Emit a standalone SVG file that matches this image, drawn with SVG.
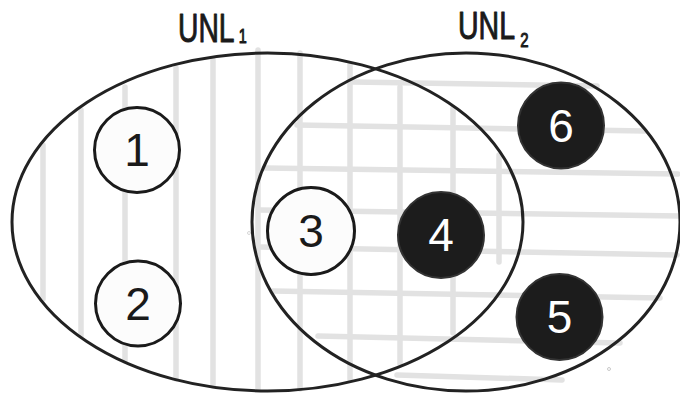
<svg xmlns="http://www.w3.org/2000/svg" width="680" height="396" viewBox="0 0 680 396">
<style>
.hatch{stroke:#e2e2e2;stroke-width:5.5;stroke-linecap:round;fill:none}
.set{fill:none;stroke:#222;stroke-width:3}
.wc{fill:#fcfcfc;stroke:#1a1a1a;stroke-width:3}
.dc{fill:#1c1c1c;stroke:#333;stroke-width:2}
.lbl{font-family:"Liberation Sans",Arial,sans-serif;fill:#1a1a1a;stroke:#1a1a1a;stroke-width:1;stroke-linejoin:round}
.num{font-family:"Liberation Sans",Arial,sans-serif;font-size:46px;text-anchor:middle}
</style>
<rect width="680" height="396" fill="#ffffff"/>
<g id="hatching">
<line class="hatch" x1="43" y1="145" x2="43" y2="299"/>
<line class="hatch" x1="81" y1="110" x2="81" y2="336"/>
<line class="hatch" x1="125" y1="87" x2="125" y2="361"/>
<line class="hatch" x1="176" y1="68" x2="176" y2="379"/>
<line class="hatch" x1="213" y1="60" x2="213" y2="386"/>
<line class="hatch" x1="258" y1="50" x2="258" y2="389"/>
<line class="hatch" x1="300" y1="53" x2="300" y2="389"/>
<line class="hatch" x1="350" y1="65" x2="350" y2="379"/>
<line class="hatch" x1="400" y1="87" x2="400" y2="364"/>
<line class="hatch" x1="453" y1="108" x2="453" y2="333"/>
<line class="hatch" x1="499" y1="155" x2="499" y2="262"/>
<line class="hatch" x1="353" y1="82" x2="597" y2="86"/>
<line class="hatch" x1="297" y1="125" x2="645" y2="131"/>
<line class="hatch" x1="265" y1="168" x2="678" y2="174"/>
<line class="hatch" x1="260" y1="210" x2="680" y2="216"/>
<line class="hatch" x1="260" y1="247" x2="677" y2="255"/>
<line class="hatch" x1="273" y1="291" x2="660" y2="298"/>
<line class="hatch" x1="318" y1="336" x2="620" y2="343"/>
<line class="hatch" x1="397" y1="375" x2="562" y2="380"/>
<circle cx="249" cy="233" r="1.5" fill="none" stroke="#ccc" stroke-width="0.8"/>
<circle cx="609" cy="369" r="1.5" fill="none" stroke="#bbb" stroke-width="0.8"/>
</g>
<g id="UNL1">
<ellipse class="set" cx="267.5" cy="222" rx="255.5" ry="169"/>
<text class="lbl" transform="translate(178,42) scale(0.69,1)" font-size="41">UNL<tspan dx="6" dy="1" font-size="21">1</tspan></text>
</g>
<g id="UNL2">
<ellipse class="set" cx="466" cy="222" rx="214" ry="169"/>
<text class="lbl" transform="translate(458,39) scale(0.75,1)" font-size="38">UNL<tspan dx="7" dy="8" font-size="20">2</tspan></text>
</g>
<g id="n1"><circle class="wc" cx="137" cy="150" r="42.5"/><text class="num" x="137" y="166" fill="#1a1a1a">1</text></g>
<g id="n2"><circle class="wc" cx="138" cy="303.5" r="42.5"/><text class="num" x="138" y="320" fill="#1a1a1a">2</text></g>
<g id="n3"><circle class="wc" cx="311" cy="231" r="43.5"/><text class="num" x="311" y="247" fill="#1a1a1a">3</text></g>
<g id="n4"><circle class="dc" cx="441" cy="235" r="43"/><text class="num" x="441" y="251" fill="#ffffff">4</text></g>
<g id="n6"><circle class="dc" cx="561" cy="125.5" r="43"/><text class="num" x="561" y="142" fill="#ffffff">6</text></g>
<g id="n5"><circle class="dc" cx="559.5" cy="317" r="43"/><text class="num" x="559.5" y="333" fill="#ffffff">5</text></g>
<g id="connectors"></g>
</svg>
